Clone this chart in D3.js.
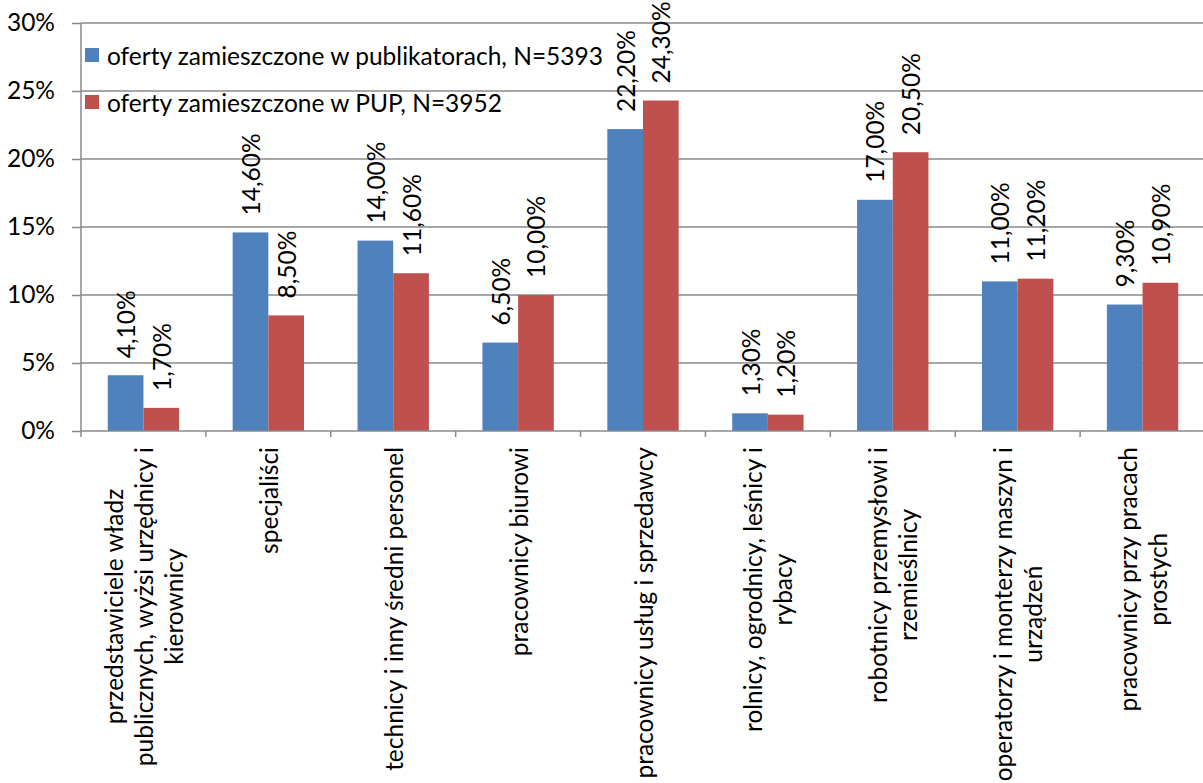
<!DOCTYPE html>
<html>
<head>
<meta charset="utf-8">
<script src="https://cdn.jsdelivr.net/npm/d3@7"></script>
<style>
  body { margin: 0; background: #fff; }
  svg text { font-family: Lato, "Open Sans", sans-serif; fill: #000; }
</style>
</head>
<body>
<svg id="canvas" width="1203" height="783"></svg>
<script>
let categories = [
  ["przedstawiciele władz", "publicznych, wyżsi urzędnicy i", "kierownicy"],
  ["specjaliści"],
  ["technicy i inny średni personel"],
  ["pracownicy biurowi"],
  ["pracownicy usług i sprzedawcy"],
  ["rolnicy, ogrodnicy, leśnicy i", "rybacy"],
  ["robotnicy przemysłowi i", "rzemieślnicy"],
  ["operatorzy i monterzy maszyn i", "urządzeń"],
  ["pracownicy przy pracach", "prostych"]
];
let seriesNames = [
  "oferty zamieszczone w publikatorach, N=5393",
  "oferty zamieszczone w PUP, N=3952"
];
let publikatory = [4.1, 14.6, 14.0, 6.5, 22.2, 1.3, 17.0, 11.0, 9.3];
let pup = [1.7, 8.5, 11.6, 10.0, 24.3, 1.2, 20.5, 11.2, 10.9];
let yTicks = [0, 5, 10, 15, 20, 25, 30];
let colors = ["#4F81BD", "#C0504D"];

let canvas = d3.select("#canvas");
let fontSize = 24.5;

let ids = categories.map((c, i) => i);
let x = d3.scaleBand().domain(ids).range([81, 1205]);
let xs = d3.scaleBand().domain([0, 1]).range([0, x.bandwidth()]).paddingOuter(0.75);
let y = d3.scaleLinear().domain([0, 30]).range([431, 23]);

// grid lines
canvas.append("g")
  .selectAll("line")
  .data(yTicks.slice(1))
  .enter()
  .append("line")
  .attr("x1", 81)
  .attr("x2", 1203)
  .attr("y1", (d) => y(d))
  .attr("y2", (d) => y(d))
  .attr("stroke", "#8a8a8a")
  .attr("stroke-width", 1.5);

// y axis
let yAxis = canvas.append("g")
  .attr("transform", "translate(81,0)")
  .call(d3.axisLeft(y).tickValues(yTicks).tickSize(9).tickPadding(17).tickFormat((d) => d + "%"));
yAxis.selectAll("line, path").attr("stroke", "#8a8a8a").attr("stroke-width", 1.5);
yAxis.select("path").attr("d", "M0,23V431");
yAxis.selectAll("text").style("font-size", fontSize + "px").attr("font-family", null);

// bars
let rows = ids.map((i) => [publikatory[i], pup[i]]);
let groups = canvas.append("g")
  .selectAll("g")
  .data(rows)
  .enter()
  .append("g")
  .attr("transform", (d, i) => "translate(" + x(i) + ",0)");

groups.selectAll("rect")
  .data((d) => d)
  .enter()
  .append("rect")
  .attr("x", (d, j) => xs(j))
  .attr("width", xs.bandwidth())
  .attr("y", (d) => y(d))
  .attr("height", (d) => y(0) - y(d))
  .attr("fill", (d, j) => colors[j]);

groups.selectAll("text")
  .data((d) => d)
  .enter()
  .append("text")
  .attr("transform", (d, j) => "translate(" + (xs(j) + xs.bandwidth() / 2) + "," + (y(d) - 17) + ") rotate(-90)")
  .attr("dominant-baseline", "central")
  .style("font-size", fontSize + "px")
  .text((d) => d.toFixed(2).replace(".", ",") + "%");

// x axis
let xAxis = canvas.append("g").attr("transform", "translate(0,431)");
xAxis.append("line")
  .attr("x1", 81).attr("x2", 1203)
  .attr("stroke", "#8a8a8a").attr("stroke-width", 1.5);
xAxis.selectAll(".tick")
  .data(ids)
  .enter()
  .append("line")
  .attr("x1", (d) => x(d))
  .attr("x2", (d) => x(d))
  .attr("y1", 0)
  .attr("y2", 6)
  .attr("stroke", "#8a8a8a").attr("stroke-width", 1.5);

// category labels, rotated, lines centred on each other
let lineGap = 30;
categories.forEach((lines, i) => {
  let g = canvas.append("g");
  let texts = lines.map((line, k) => {
    return g.append("text")
      .style("font-size", fontSize + "px")
      .attr("text-anchor", "middle")
      .attr("dominant-baseline", "central")
      .text(line);
  });
  let maxLen = d3.max(texts, (t) => t.node().getComputedTextLength());
  let cx = x(i) + x.bandwidth() / 2;
  texts.forEach((t, k) => {
    let off = (k - (lines.length - 1) / 2) * lineGap;
    t.attr("transform", "translate(" + (cx + off) + "," + (447 + maxLen / 2) + ") rotate(-90)");
  });
});

// legend
let legend = canvas.append("g")
  .selectAll("g")
  .data(seriesNames)
  .enter()
  .append("g")
  .attr("transform", (d, i) => "translate(85," + (55 + i * 47) + ")");
legend.append("rect")
  .attr("x", 0).attr("y", -7)
  .attr("width", 14).attr("height", 14)
  .attr("fill", (d, i) => colors[i]);
legend.append("text")
  .attr("x", 22)
  .attr("dominant-baseline", "central")
  .style("font-size", fontSize + "px")
  .text((d) => d);
</script>
</body>
</html>
